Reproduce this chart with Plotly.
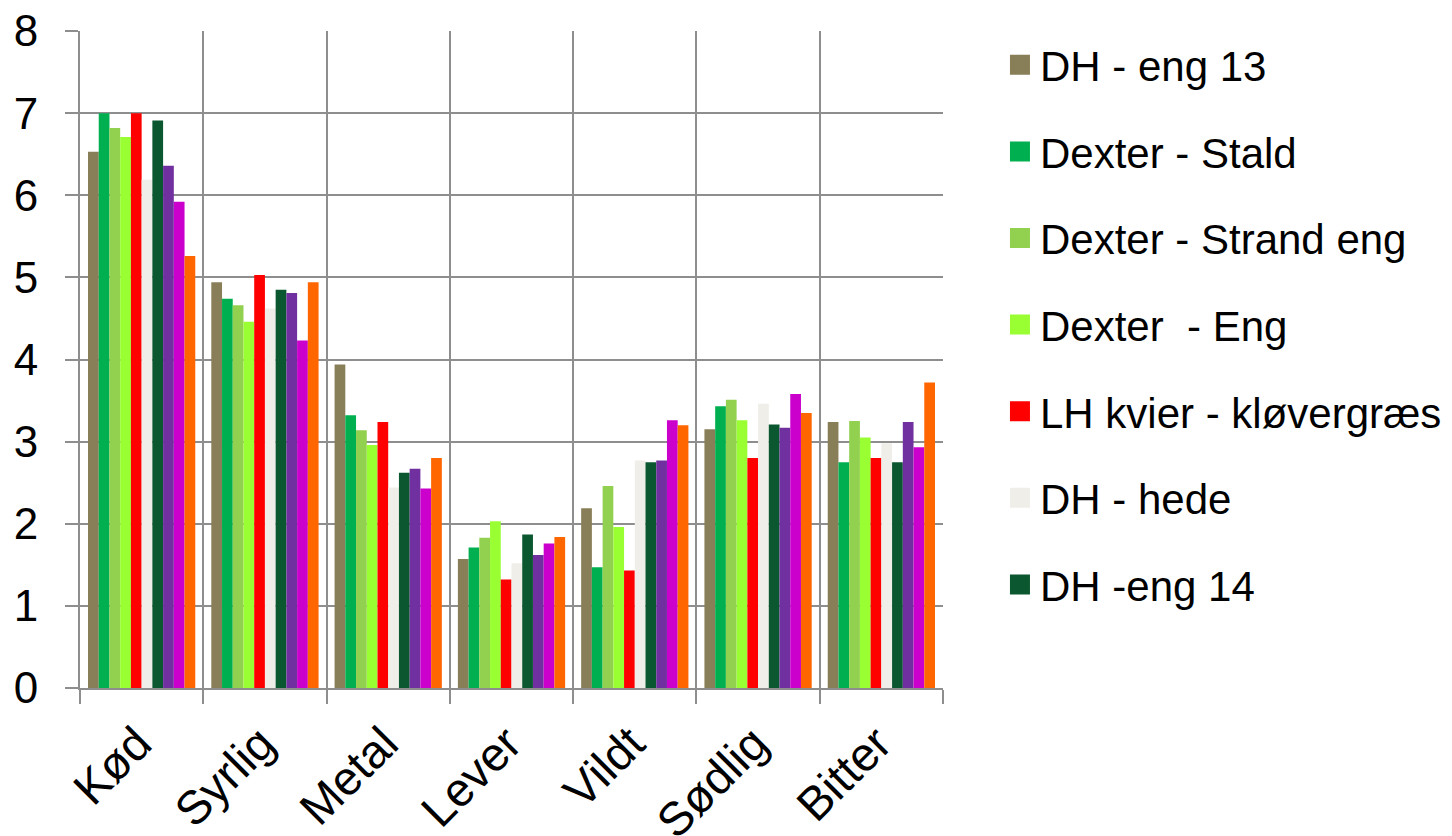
import plotly.graph_objects as go

categories = ["Kød", "Syrlig", "Metal", "Lever", "Vildt", "Sødlig", "Bitter"]

series_names = [
    "DH - eng 13",
    "Dexter - Stald",
    "Dexter - Strand eng",
    "Dexter  - Eng",
    "LH kvier - kløvergræs",
    "DH - hede",
    "DH -eng 14",
    "Serie 8",
    "Serie 9",
    "Serie 10",
]
in_legend = [True, True, True, True, True, True, True, False, False, False]

colors = ["#887E57", "#00B050", "#92D050", "#99FF33", "#FF0000",
          "#EFEEE8", "#0B5730", "#7030A0", "#CC00CC", "#FF6600"]

dh_eng13 = [6.53, 4.94, 3.94, 1.57, 2.19, 3.15, 3.24]
dexter_stald = [7.00, 4.74, 3.32, 1.71, 1.47, 3.43, 2.75]
dexter_strand = [6.82, 4.66, 3.14, 1.83, 2.46, 3.51, 3.25]
dexter_eng = [6.71, 4.46, 2.96, 2.03, 1.96, 3.26, 3.05]
lh_kvier = [7.00, 5.03, 3.24, 1.32, 1.43, 2.80, 2.80]
dh_hede = [6.19, 4.62, 2.44, 1.52, 2.77, 3.46, 2.98]
dh_eng14 = [6.91, 4.85, 2.62, 1.87, 2.75, 3.21, 2.75]
serie8 = [6.36, 4.81, 2.67, 1.62, 2.77, 3.17, 3.24]
serie9 = [5.92, 4.23, 2.43, 1.76, 3.26, 3.58, 2.93]
serie10 = [5.26, 4.94, 2.80, 1.84, 3.20, 3.35, 3.72]

values = [dh_eng13, dexter_stald, dexter_strand, dexter_eng, lh_kvier,
          dh_hede, dh_eng14, serie8, serie9, serie10]

y_ticks = [0, 1, 2, 3, 4, 5, 6, 7, 8]

FONT = "Liberation Sans, Arial, sans-serif"
GRID = "#8E8E8E"

fig = go.Figure()
for i, (name, vals) in enumerate(zip(series_names, values)):
    fig.add_trace(go.Bar(
        x=categories, y=vals, name=name,
        marker=dict(color=colors[i], line=dict(width=0)),
        showlegend=False,
    ))

# legend entries (square swatches)
for i, name in enumerate(series_names):
    if not in_legend[i]:
        continue
    fig.add_trace(go.Scatter(
        x=[None], y=[None], mode="markers", name=name,
        legendgroup=f"g{i}",
        marker=dict(symbol="square", size=16, color=colors[i],
                    line=dict(width=4, color=colors[i])),
        showlegend=True, hoverinfo="skip",
    ))

fig.update_layout(
    width=1452, height=836,
    margin=dict(l=80, r=509, t=31, b=148, autoexpand=False),
    paper_bgcolor="white", plot_bgcolor="white",
    barmode="group", bargap=0.13, bargroupgap=0,
    font=dict(family=FONT, color="black"),
    legend=dict(
        x=1.066, xanchor="left", y=1.0, yanchor="top",
        font=dict(size=42, family=FONT, color="black"),
        tracegroupgap=29, itemsizing="trace",
        bgcolor="rgba(0,0,0,0)",
    ),
)

fig.update_xaxes(
    type="category", automargin=False,
    showgrid=True, gridcolor=GRID, gridwidth=2,
    tickson="boundaries", ticks="outside", ticklen=14, tickwidth=2, tickcolor=GRID,
    showline=True, linecolor=GRID, linewidth=2, mirror=False,
    tickangle=-45, tickfont=dict(size=47, family=FONT, color="black"),
    ticklabelstandoff=7, ticklabelshift=-4,
)
fig.update_yaxes(
    range=[0, 8], tickvals=y_ticks, automargin=False,
    showgrid=True, gridcolor=GRID, gridwidth=2,
    ticks="outside", ticklen=13, tickwidth=2, tickcolor=GRID,
    showline=True, linecolor=GRID, linewidth=2,
    zeroline=False,
    tickfont=dict(size=44, family=FONT, color="black"),
    ticklabelstandoff=18,
)

fig.write_html("out.html", config={"displayModeBar": False},
               post_script="document.body.style.margin='0px';")
